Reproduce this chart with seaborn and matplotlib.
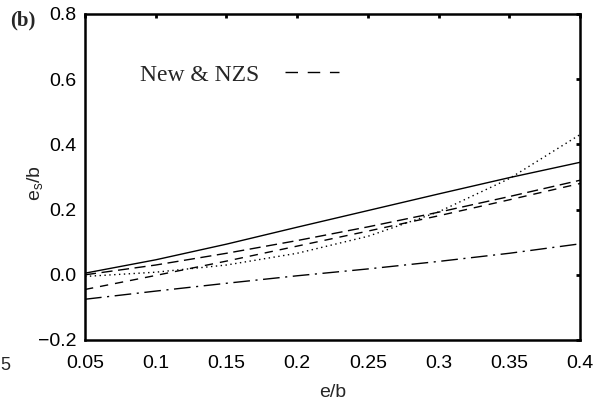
import numpy as np
import pandas as pd
import matplotlib
matplotlib.use("Agg")
import matplotlib.pyplot as plt
from matplotlib.lines import Line2D
import seaborn as sns

# Eccentricity ratio e/b and the resulting e_s/b for each design model
e_b = [0.05, 0.10, 0.15, 0.20, 0.25, 0.30, 0.35, 0.40]
solid_vals = [0.005, 0.046, 0.094, 0.146, 0.197, 0.248, 0.298, 0.345]
dashed_a_vals = [0.000, 0.030, 0.066, 0.105, 0.147, 0.192, 0.240, 0.290]
dashed_b_vals = [-0.045, -0.002, 0.042, 0.088, 0.134, 0.181, 0.230, 0.280]
dotted_vals = [-0.005, 0.008, 0.030, 0.066, 0.118, 0.193, 0.295, 0.430]
dashdot_vals = [-0.075, -0.050, -0.026, -0.003, 0.018, 0.041, 0.066, 0.095]

series_names = ["solid", "dashed_a", "dashed_b", "dotted", "dashdot"]
series_vals = [solid_vals, dashed_a_vals, dashed_b_vals, dotted_vals, dashdot_vals]

x_ticks = [0.05, 0.1, 0.15, 0.2, 0.25, 0.3, 0.35, 0.4]
x_ticklabels = ["0.05", "0.1", "0.15", "0.2", "0.25", "0.3", "0.35", "0.4"]
y_ticks = [-0.2, 0.0, 0.2, 0.4, 0.6, 0.8]
y_ticklabels = ["\u22120.2", "0.0", "0.2", "0.4", "0.6", "0.8"]

legend_label = "New & NZS"

df = pd.DataFrame({
    "e/b": np.tile(e_b, len(series_names)),
    "es/b": np.concatenate(series_vals),
    "model": np.repeat(series_names, len(e_b)),
})

sns.set_theme(style="white")
plt.rcParams["font.family"] = ["Liberation Sans", "DejaVu Sans"]
plt.rcParams["mathtext.fontset"] = "custom"
plt.rcParams["mathtext.rm"] = "Liberation Sans"
plt.rcParams["mathtext.it"] = "Liberation Sans:italic"

fig = plt.figure(figsize=(6.01, 4.07), dpi=100)
ax = fig.add_axes([85 / 601, 1 - 340 / 407, 495 / 601, 326 / 407])

dash_map = {
    "solid": "",
    "dashed_a": (8, 4),
    "dashed_b": (6, 5),
    "dotted": (1, 2.5),
    "dashdot": (12, 4, 1.5, 4),
}
sns.lineplot(data=df, x="e/b", y="es/b", hue="model", style="model",
             palette={k: "black" for k in series_names}, dashes=dash_map,
             linewidth=1.0, legend=False, ax=ax)

ax.set_xlim(0.05, 0.4)
ax.set_ylim(-0.2, 0.8)
ax.set_xticks(x_ticks)
ax.set_xticklabels(x_ticklabels)
ax.set_yticks(y_ticks)
ax.set_yticklabels(y_ticklabels)
ax.tick_params(axis="both", direction="in", length=3, width=2, labelsize=14,
               colors="black", top=True, right=True)
ax.tick_params(axis="x", pad=11)
ax.tick_params(axis="y", pad=6)
for sp in ax.spines.values():
    sp.set_visible(True)
    sp.set_color("black")
    sp.set_linewidth(1.8)

ax.set_xlabel("e/b", fontsize=14, va="top")
ax.xaxis.set_label_coords(0.5, -0.135)
ax.set_ylabel(r"e$_{\mathrm{s}}$/b", fontsize=14)
ax.yaxis.set_label_coords(-0.08, 0.48)

handle = Line2D([], [], color="black", linewidth=1.0, dashes=(9, 7))
ax.legend(handles=[handle], labels=[legend_label], markerfirst=False,
          frameon=False, loc="center left", bbox_to_anchor=(0.111, 0.813),
          handlelength=2.3, handletextpad=1.1, borderpad=0, borderaxespad=0,
          prop={"family": "Liberation Serif", "size": 17})

fig.text(10 / 601, 1 - 20 / 407, "(b)", ha="left", va="center",
         fontsize=15, fontweight="bold", family="Liberation Serif")
fig.text(0.5 / 601, 1 - 366 / 407, "5", ha="left", va="center", fontsize=13)

fig.savefig("out.png", dpi=100)
